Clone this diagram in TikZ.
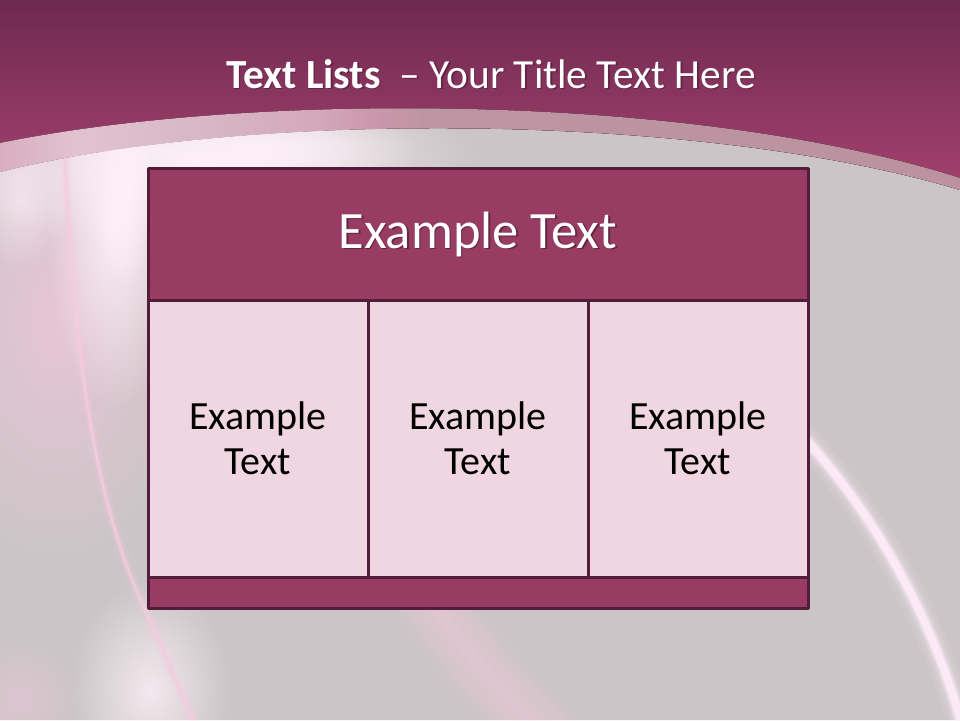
\documentclass[tikz,border=0pt]{standalone}
\usepackage{fontspec}
\setmainfont{Carlito}
\usetikzlibrary{positioning,fadings}

\definecolor{bandtop}{HTML}{6E2950}
\definecolor{bandlow}{HTML}{A7436F}
\definecolor{slide}{HTML}{CBC5C7}
\definecolor{framecol}{HTML}{521D3A}
\definecolor{headcol}{HTML}{983C64}
\definecolor{cellcol}{HTML}{EFD6E0}
\definecolor{glowcol}{HTML}{FDF1F7}
\definecolor{glowpink}{HTML}{F0C6D8}
\definecolor{linepink}{HTML}{F6CCDE}
\definecolor{streakcol}{HTML}{FDEAF8}
\definecolor{stripa}{HTML}{D7AEBF}
\definecolor{stripb}{HTML}{E3C2D0}
\definecolor{stripc}{HTML}{D9B8C6}
\definecolor{stripd}{HTML}{D3A9BA}
\definecolor{stripe}{HTML}{CC97AB}
\definecolor{stripf}{HTML}{BD94A1}
\definecolor{stripg}{HTML}{BB929F}

\pgfdeclarehorizontalshading{stripshade}{100bp}{color(0bp)=(stripa); color(25bp)=(stripa);
  color(29bp)=(stripb); color(35bp)=(stripc); color(41.5bp)=(stripd); color(44.3bp)=(stripe);
  color(47.4bp)=(stripf); color(75bp)=(stripg); color(100bp)=(stripg)}

\tikzfading[name=glowfade, inner color=transparent!0, outer color=transparent!100]

\begin{document}
\begin{tikzpicture}[x=1pt, y=-1pt, line cap=round, line join=round,
  box/.style={draw=framecol, line width=3pt, inner sep=0pt, outer sep=0pt, align=center},
  headbox/.style={box, fill=headcol, minimum width=660pt, minimum height=132pt},
  itembox/.style={box, fill=cellcol, text=black, minimum width=220pt, minimum height=277pt,
    font=\fontsize{40}{45}\selectfont},
  footbox/.style={box, fill=headcol, minimum width=660pt, minimum height=31pt},
  headtxt/.style={font=\fontsize{52.5}{60}\selectfont},
  titletxt/.style={font=\fontsize{41.4}{50}\selectfont, anchor=base},
  softglow/.style={path fading=glowfade}]

  \useasboundingbox (0,0) rectangle (960,720);

  % ===== background =====
  \fill[top color=bandtop, bottom color=bandlow] (0,0) rectangle (960,200);

  \fill[slide] (0,172) .. controls (250,110) and (700,112) .. (960,190)
    -- (960,720) -- (0,720) -- cycle;

  % ---- light strip along the arc ----
  \fill[shading=stripshade] (0,143) .. controls (250,92) and (690,92) .. (960,178)
    -- (960,190) .. controls (700,112) and (250,110) .. (0,172) -- cycle;

  % ---- pink glows ----
  \begin{scope}
    \clip (0,172) .. controls (250,110) and (700,112) .. (960,190) -- (960,720) -- (0,720) -- cycle;
    \fill[glowpink, opacity=.75, softglow] (55,320) ellipse (140 and 250);
    \fill[glowcol, softglow] (200,160) ellipse (280 and 90);
    \fill[glowcol, softglow] (260,150) ellipse (160 and 45);
    \fill[glowcol, softglow] (115,220) ellipse (70 and 190);
    \fill[glowcol, softglow] (125,180) ellipse (30 and 110);
    \fill[glowcol, opacity=.6, softglow] (20,200) ellipse (50 and 70);
    \fill[glowcol, opacity=.8, softglow] (150,690) ellipse (80 and 110);
    \fill[glowpink, opacity=.5, softglow] (20,700) ellipse (60 and 60);
    % thin line on the left
    \foreach \w/\o in {12/0.12, 7/0.2, 4/0.4, 2/0.7}
      \draw[linepink, line width=\w pt, opacity=\o]
      (65,160) .. controls (75,380) and (100,520) .. (150,620) -- (195,725);
    % band at the bottom
    \foreach \w in {70,56,44,34,24,16,10}
      \draw[glowpink, line width=\w pt, opacity=.12]
      (425,590) .. controls (455,640) and (500,690) .. (545,735);
    % streak on the right
    \foreach \w/\o in {28/0.1, 20/0.15, 14/0.3, 10/0.6, 7/0.9}
      \draw[streakcol, line width=\w pt, opacity=\o]
      (806,440) .. controls (870,510) and (930,610) .. (962,725);
  \end{scope}

  % ===== title =====
  \node[titletxt, text=black, opacity=.25] (titleshadow) at (492.5,89.5)
    {\textbf{Text Lists}\ \ – Your Title Text Here};
  \node[titletxt, text=white] (title) at (491,88)
    {\textbf{Text Lists}\ \ – Your Title Text Here};

  % ===== table =====
  \node[headbox] (head) at (478,234) {};
  \node[headtxt, text=black, opacity=.35] (headshadow) at ([shift={(1.5,1.5)}]head.center) {Example Text};
  \node[headtxt, text=white] (headtext) at (head.center) {Example Text};

  \node[itembox, below right=0pt of head.south west] (itemone) {Example\\Text};
  \node[itembox, right=0pt of itemone] (itemtwo) {Example\\Text};
  \node[itembox, right=0pt of itemtwo] (itemthree) {Example\\Text};

  \node[footbox, below right=0pt of itemone.south west] (foot) {};

\end{tikzpicture}
\end{document}
